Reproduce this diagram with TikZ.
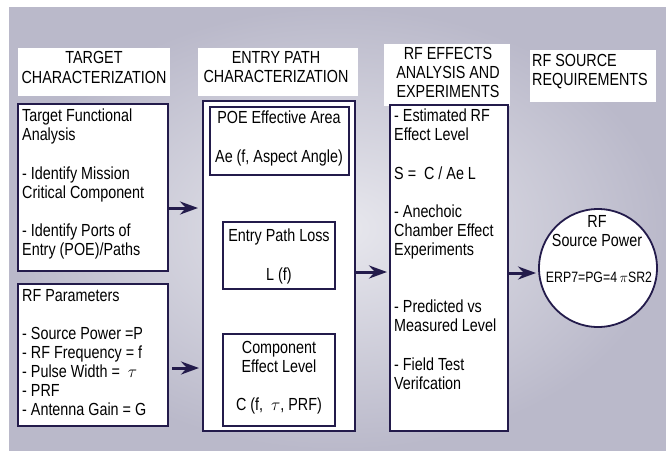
\documentclass[tikz,border=0pt]{standalone}
\usepackage{fontspec}
\setmainfont{Liberation Sans}[FakeStretch=0.82]
\usetikzlibrary{arrows.meta}
\definecolor{navy}{HTML}{231B4B}
\definecolor{bgouter}{HTML}{BAB9CA}
\definecolor{bginner}{HTML}{E8E8EE}

\begin{document}
\begin{tikzpicture}[x=1pt,y=-1pt,
    box/.style={draw=navy,line width=1.6pt,fill=white,inner sep=0pt,outer sep=0pt,anchor=north west},
    headbox/.style={fill=white,inner sep=0pt,outer sep=0pt,anchor=north west},
    txt/.style={inner sep=0pt,font=\fontsize{17.5}{19.1}\selectfont},
    flow/.style={-{Stealth[length=18pt,width=13pt,inset=6pt]},draw=navy,line width=3pt}]
    \useasboundingbox (0,0) rectangle (666,451);
    \fill[white] (0,0) rectangle (666,451);
    \shade[inner color=bginner,outer color=bgouter] (9,7) rectangle (666,450);

    % column headings
    \node[headbox,minimum width=152pt,minimum height=48pt] (tchead) at (18,48) {};
    \node[headbox,minimum width=160pt,minimum height=48pt] (ephead) at (198,48) {};
    \node[headbox,minimum width=126pt,minimum height=62pt] (rehead) at (384,44) {};
    \node[headbox,minimum width=126pt,minimum height=52pt] (rshead) at (530,50) {};
    \node[txt,align=center] (tctext) at (94,67.5) {TARGET\\CHARACTERIZATION};
    \node[txt,align=center] (eptext) at (276,67.5) {ENTRY PATH\\CHARACTERIZATION};
    \node[txt,align=center] (retext) at (448,72.3) {RF EFFECTS\\ANALYSIS AND\\EXPERIMENTS};
    \node[txt,align=left,anchor=north west] (rstext) at (532,54) {RF SOURCE\\REQUIREMENTS};

    % boxes
    \node[box,minimum width=150pt,minimum height=167pt] (tfa) at (18,104) {};
    \node[box,minimum width=150pt,minimum height=142pt] (rfp) at (18,284) {};
    \node[box,minimum width=152pt,minimum height=330pt] (entry) at (203,101) {};
    \node[box,minimum width=139pt,minimum height=68pt] (poe) at (210,107) {};
    \node[box,minimum width=112pt,minimum height=67pt] (epl) at (223,222) {};
    \node[box,minimum width=112pt,minimum height=92pt] (comp) at (223,334) {};
    \node[box,minimum width=118pt,minimum height=326pt] (rfe) at (390,105) {};
    \node[draw=navy,line width=1.8pt,fill=white,circle,minimum size=118pt,inner sep=0pt,outer sep=0pt] (srcpow) at (598,268) {};

    % box texts
    \node[txt,align=left,anchor=north west] (tfatext) at (22,109)
        {Target Functional\\Analysis\\[19.1pt]- Identify Mission\\Critical Component\\[19.1pt]- Identify Ports of\\Entry (POE)/Paths};
    \node[txt,align=left,anchor=north west] (rfptext) at (22,289)
        {RF Parameters\\[19.1pt]- Source Power =P\\- RF Frequency = f\\- Pulse Width = \ $\tau$\\- PRF\\- Antenna Gain = G};
    \node[txt,align=center,anchor=north] (poetext) at (279,111) {POE Effective Area\\[19.1pt]Ae (f, Aspect Angle)};
    \node[txt,align=center,anchor=north] (epltext) at (279,229) {Entry Path Loss\\[19.1pt]L (f)};
    \node[txt,align=center,anchor=north] (comptext) at (279,341) {Component\\Effect Level\\[19.1pt]C (f, \ $\tau$, PRF)};
    \node[txt,align=left,anchor=north west] (rfetext) at (394,109)
        {- Estimated RF\\Effect Level\\[19.1pt]S = \ C / Ae L\\[19.1pt]- Anechoic\\Chamber Effect\\Experiments\\[38.2pt]- Predicted vs\\Measured Level\\[19.1pt]- Field Test\\Verifcation};
    \node[txt,align=center] (srctext) at (597,231.5) {RF\\Source Power};
    \node[inner sep=0pt,font=\fontsize{15}{17}\selectfont] (erptext) at (599,277) {ERP7=PG=4\,$\pi$SR2};

    % arrows
    \draw[flow,shorten <=0.5pt,shorten >=5pt] ([yshift=-20.5pt]tfa.east) -- ([yshift=-20.5pt]tfa.east -| entry.west);
    \draw[flow,shorten <=4pt,shorten >=4pt] ([yshift=-13pt]rfp.east) -- ([yshift=-13pt]rfp.east -| entry.west);
    \draw[flow,shorten <=0.5pt,shorten >=3pt] ([yshift=-6pt]entry.east) -- ([yshift=-6pt]entry.east -| rfe.west);
    \draw[flow,shorten <=0.5pt,shorten >=3pt] ([yshift=-5pt]rfe.east) -- ([yshift=-5pt]rfe.east -| srcpow.west);
\end{tikzpicture}
\end{document}
